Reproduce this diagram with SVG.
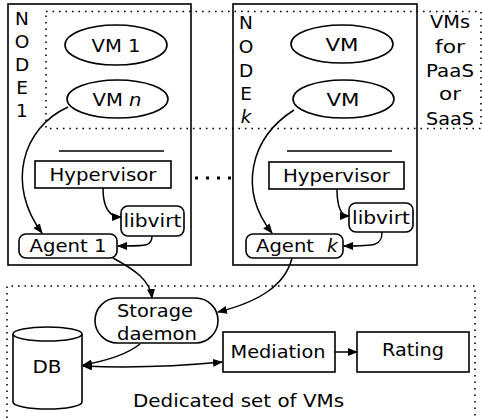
<svg xmlns="http://www.w3.org/2000/svg" width="482" height="418" viewBox="0 0 482 418">
<style>
text{font-family:"DejaVu Sans","Liberation Sans",sans-serif;font-size:18.5px;fill:#000}
.m{text-anchor:middle}
.b{fill:none;stroke:#000;stroke-width:1.6}
.w{fill:#fff;stroke:#000;stroke-width:1.6}
.dot{fill:none;stroke:#000;stroke-width:1.6;stroke-dasharray:1.6 4.9}
.c{fill:none;stroke:#000;stroke-width:1.5}
</style>
<defs>
<marker id="ah" markerUnits="userSpaceOnUse" markerWidth="10" markerHeight="8" refX="9" refY="4" orient="auto">
<path d="M0,0 L10,4 L0,8 Z" fill="#000"/>
</marker>
<marker id="as" markerUnits="userSpaceOnUse" markerWidth="10" markerHeight="8" refX="1" refY="4" orient="auto">
<path d="M10,0 L0,4 L10,8 Z" fill="#000"/>
</marker>
</defs>

<g id="regions">
<rect class="dot" x="46" y="11.5" width="435" height="117"/>
<path class="dot" d="M7,418 V286 H475 V418"/>
<line x1="195" y1="178" x2="232" y2="178" stroke="#000" stroke-width="3" stroke-dasharray="3 8"/>
</g>

<g id="node1">
<rect class="b" x="8" y="4" width="183" height="261"/>
<text class="m" x="22" y="25">N</text>
<text class="m" x="22" y="48">O</text>
<text class="m" x="22" y="71">D</text>
<text class="m" x="22" y="94">E</text>
<text class="m" x="22" y="117">1</text>
<line x1="59" y1="151" x2="164" y2="151" stroke="#000" stroke-width="1.6"/>
</g>
<g id="nodek">
<rect class="b" x="233" y="4" width="184" height="261"/>
<text class="m" x="246" y="29">N</text>
<text class="m" x="246" y="53">O</text>
<text class="m" x="246" y="77">D</text>
<text class="m" x="246" y="100">E</text>
<text class="m" x="246" y="123" font-style="italic">k</text>
<line x1="287" y1="151" x2="392" y2="151" stroke="#000" stroke-width="1.6"/>
</g>

<g id="vm1"><ellipse class="w" cx="116" cy="45" rx="51" ry="20"/><text class="m" x="116" y="52" textLength="49" lengthAdjust="spacingAndGlyphs">VM 1</text></g>
<g id="vmn"><ellipse class="w" cx="117.5" cy="99" rx="50.5" ry="19"/><text class="m" x="117" y="106" textLength="49" lengthAdjust="spacingAndGlyphs">VM <tspan font-style="italic">n</tspan></text></g>
<g id="vmk1"><ellipse class="w" cx="342" cy="44" rx="51" ry="19"/><text class="m" x="342" y="51" textLength="33" lengthAdjust="spacingAndGlyphs">VM</text></g>
<g id="vmk2"><ellipse class="w" cx="343.5" cy="99" rx="50.5" ry="19"/><text class="m" x="343" y="106" textLength="33" lengthAdjust="spacingAndGlyphs">VM</text></g>

<g id="vmlabel">
<text class="m" x="450" y="28" textLength="40" lengthAdjust="spacingAndGlyphs">VMs</text>
<text class="m" x="450" y="53" textLength="30" lengthAdjust="spacingAndGlyphs">for</text>
<text class="m" x="450" y="77" textLength="48" lengthAdjust="spacingAndGlyphs">PaaS</text>
<text class="m" x="450" y="100" textLength="22" lengthAdjust="spacingAndGlyphs">or</text>
<text class="m" x="450" y="125" textLength="48" lengthAdjust="spacingAndGlyphs">SaaS</text>
</g>

<g id="hyp1"><rect class="w" x="35" y="161" width="136" height="27"/><text class="m" x="103" y="181" textLength="107" lengthAdjust="spacingAndGlyphs">Hypervisor</text></g>
<g id="hypk"><rect class="w" x="269" y="162" width="135" height="27"/><text class="m" x="336.5" y="182" textLength="107" lengthAdjust="spacingAndGlyphs">Hypervisor</text></g>
<g id="libvirt1"><rect class="w" x="121" y="206" width="63" height="30" rx="7"/><text class="m" x="152.5" y="227" textLength="58" lengthAdjust="spacingAndGlyphs">libvirt</text></g>
<g id="libvirtk"><rect class="w" x="349" y="203" width="64" height="29" rx="7"/><text class="m" x="381" y="224" textLength="58" lengthAdjust="spacingAndGlyphs">libvirt</text></g>
<g id="agent1"><rect class="w" x="19" y="234" width="98" height="24" rx="7"/><text class="m" x="68" y="252" textLength="77" lengthAdjust="spacingAndGlyphs">Agent 1</text></g>
<g id="agentk"><rect class="w" x="246" y="234" width="97" height="24" rx="7"/><text x="256" y="252" textLength="58" lengthAdjust="spacingAndGlyphs">Agent</text><text x="327" y="252" font-style="italic">k</text></g>

<g id="storage"><rect class="w" x="95" y="298" width="123" height="45" rx="22.5"/><text class="m" x="155" y="317" textLength="76" lengthAdjust="spacingAndGlyphs">Storage</text><text class="m" x="157" y="340" textLength="80" lengthAdjust="spacingAndGlyphs">daemon</text></g>
<g id="db">
<path class="w" d="M13,334 V402 A34.5,7 0 0 0 82,402 V334"/>
<ellipse class="w" cx="47.5" cy="334" rx="34.5" ry="7"/>
<text class="m" x="47" y="373" textLength="29" lengthAdjust="spacingAndGlyphs">DB</text>
</g>
<g id="mediation"><rect class="w" x="223" y="332" width="112" height="40"/><text class="m" x="278" y="358" textLength="95" lengthAdjust="spacingAndGlyphs">Mediation</text></g>
<g id="rating"><rect class="w" x="357" y="332" width="112" height="40"/><text class="m" x="413" y="356" textLength="62" lengthAdjust="spacingAndGlyphs">Rating</text></g>
<text id="dedicated" class="m" x="238.5" y="407" textLength="211" lengthAdjust="spacingAndGlyphs">Dedicated set of VMs</text>

<g id="connectors">
<path class="c" d="M68,107 C22,128 6,185 42,233" marker-end="url(#ah)"/>
<path class="c" d="M103,188 C103,208 110,217 121,217" marker-end="url(#ah)"/>
<path class="c" d="M152,236 C152,247 145,246 118,246" marker-end="url(#ah)"/>
<path class="c" d="M113,258 C135,270 150,280 152,298" marker-end="url(#ah)"/>
<path class="c" d="M294,110 C250,138 238,190 272,233" marker-end="url(#ah)"/>
<path class="c" d="M337,189 C337,207 341,216 349,216" marker-end="url(#ah)"/>
<path class="c" d="M382,232 C382,246 375,246 344,246" marker-end="url(#ah)"/>
<path class="c" d="M292,258 C285,286 258,302 218,312" marker-end="url(#ah)"/>
<path class="c" d="M140,344 C125,356 100,362 83,365" marker-end="url(#ah)"/>
<path class="c" d="M83,366 Q150,369 222,362" marker-start="url(#as)" marker-end="url(#ah)"/>
<path class="c" d="M335,352 H357" marker-end="url(#ah)"/>
</g>
</svg>
